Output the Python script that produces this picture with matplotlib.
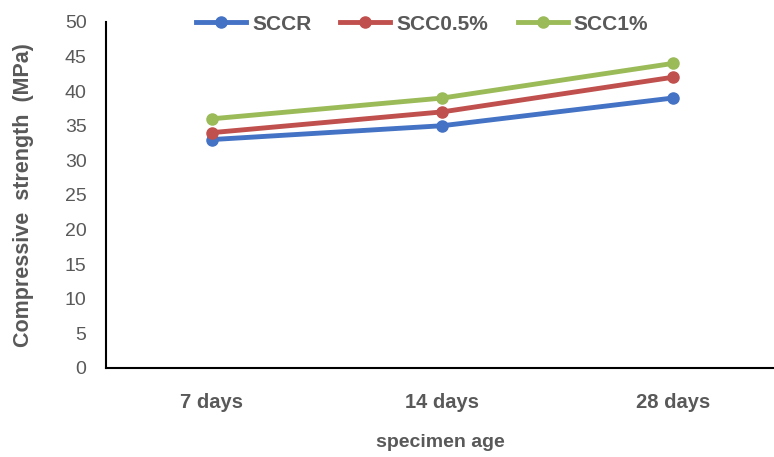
import matplotlib.pyplot as plt

# Compressive strength per curing age
ages = ["7 days", "14 days", "28 days"]
sccr = [33, 35, 39]
scc05 = [34, 37, 42]
scc1 = [36, 39, 44]

plt.rcParams["font.family"] = ["Liberation Sans", "DejaVu Sans"]
grey = "#595959"

fig = plt.figure(figsize=(7.74, 4.57), dpi=100)
ax = fig.add_axes([0.137, 0.195, 0.863, 0.757])

x = range(len(ages))
ax.plot(x, sccr, "o-", color="#4472C4", lw=3.5, ms=8, label="SCCR")
ax.plot(x, scc05, "o-", color="#C0504D", lw=3.5, ms=8, label="SCC0.5%")
ax.plot(x, scc1, "o-", color="#9BBB59", lw=3.5, ms=8, label="SCC1%")

ax.set_xlim(-0.46, 2.44)
ax.set_ylim(0, 50)
ax.set_yticks(range(0, 51, 5))
ax.set_xticks(list(x))
ax.set_xticklabels(ages, fontweight="bold")
ax.tick_params(length=0, colors=grey, labelsize=14)
ax.tick_params(axis="x", labelsize=14.5, pad=18)
ax.tick_params(axis="y", pad=14)

for side in ["top", "right"]:
    ax.spines[side].set_visible(False)
for side in ["left", "bottom"]:
    ax.spines[side].set_color("black")
    ax.spines[side].set_linewidth(1.5)

ax.set_xlabel("specimen age", fontsize=14, fontweight="bold", color=grey, labelpad=16)
ax.set_ylabel("Compressive  strength  (MPa)", fontsize=15.5, fontweight="bold", color=grey, labelpad=22)

leg = ax.legend(loc="upper center", bbox_to_anchor=(0.473, 1.075), ncol=3, frameon=False,
                fontsize=15, handlelength=2.4, columnspacing=1.4, handletextpad=0.3)
for t in leg.get_texts():
    t.set_color(grey)
    t.set_fontweight("bold")

fig.savefig("out.png", dpi=100)
